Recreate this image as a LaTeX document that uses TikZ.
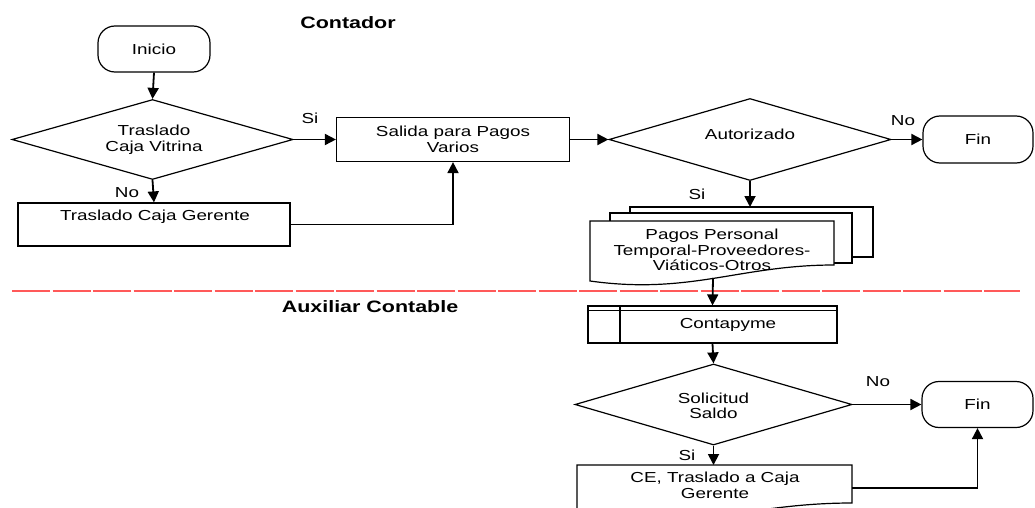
\documentclass[tikz,border=0pt]{standalone}
\usepackage{fontspec}
\setmainfont{Liberation Sans}[FakeStretch=1.3]
\usetikzlibrary{arrows.meta,shapes.geometric}

\begin{document}
\begin{tikzpicture}[x=1pt,y=-1pt,
  every node/.style={font=\fontsize{14.5}{15.5}\selectfont, inner sep=0pt, align=center},
  flow/.style={draw, fill=white, line width=1.2pt},
  boxnode/.style={flow, rectangle},
  term/.style={flow, rectangle, rounded corners=17pt},
  decision/.style={flow, diamond},
  arr/.style={-{Triangle[length=11pt,width=11pt]}, line width=1.8pt},
  lane/.style={draw=red!65, line width=1.4pt, dash pattern=on 38pt off 2.5pt},
  title/.style={font=\bfseries\fontsize{16.5}{20}\selectfont}]

\useasboundingbox (0,0) rectangle (1035,508);

% ---------- lane: Contador ----------
\node[title] (hdrA) at (348,23) {Contador};

\node[term, minimum width=112pt, minimum height=46pt] (ini) at (154,49) {Inicio};

\node[decision, minimum width=281pt, minimum height=80pt] (d1) at (152.5,139.5) {};
\node (d1t) at (154,140) {Traslado\\Caja Vitrina};

\node[boxnode, minimum width=233pt, minimum height=44pt] (sal) at (453,139.5) {Salida para Pagos\\Varios};

\node[boxnode, minimum width=272pt, minimum height=43pt] (tcg) at (154,224.5) {};
\node (tcgt) at (155,217) {Traslado Caja Gerente};

\node[decision, minimum width=282pt, minimum height=82pt] (aut) at (750,139.5) {};
\node (autt) at (750,134) {Autorizado};

\node[term, minimum width=110pt, minimum height=47pt] (fin1) at (978,139.5) {Fin};

% stacked documents: payments
\draw[flow] (630,207) rectangle (873,257);
\draw[flow] (610,213) rectangle (852,263);
\draw[flow] (590,221) -- (834,221) -- (834,265)
  .. controls (740,265) and (690,295) .. (590,281) -- cycle;
\node (docs) at (712,250) {Pagos Personal\\Temporal-Proveedores-\\Viáticos-Otros};
\coordinate (doctop) at (750,207);
\coordinate (docbot) at (713,278);

% lane separator
\draw[lane] (12,291) -- (1020,291);

% ---------- lane: Auxiliar Contable ----------
\node[title] (hdrB) at (370,307) {Auxiliar Contable};

\node[boxnode, minimum width=249pt, minimum height=37pt] (cp) at (712.5,324.5) {};
\draw[line width=1.2pt] (588,310.5) -- (837,310.5);
\draw[line width=1.2pt] (620,306) -- (620,343);
\node (cpt) at (728,324.5) {Contapyme};

\node[decision, minimum width=277pt, minimum height=81pt] (sol) at (713.5,404.5) {};
\node (solt) at (713.5,406) {Solicitud\\Saldo};

\node[term, minimum width=111pt, minimum height=46pt] (fin2) at (977.5,404.5) {Fin};

\begin{scope}
  \clip (0,0) rectangle (1035,508);
  \draw[flow] (577,465) -- (852,465) -- (852,503)
    .. controls (746,503) and (690,533) .. (577,519) -- cycle;
\end{scope}
\node (cet) at (715,485.5) {CE, Traslado a Caja\\Gerente};
\coordinate (cetop) at (713.5,465);
\coordinate (ceE) at (852,488);

% ---------- connectors ----------
\draw[arr] (ini.south) -- (d1.north);
\draw[arr] (d1.east) -- (sal.west);
\draw[arr] (d1.south) -- (tcg.north);
\draw[arr] (tcg.east) -| (sal.south);
\draw[arr] (sal.east) -- (aut.west);
\draw[arr] (aut.east) -- (fin1.west);
\draw[arr] (aut.south) -- (doctop);
\draw[arr] (docbot) -- (cp.north);
\draw[arr] (cp.south) -- (sol.north);
\draw[arr] (sol.east) -- (fin2.west);
\draw[arr] (sol.south) -- (cetop);
\draw[arr] (ceE) -| (fin2.south);

% branch labels
\node (l1) at (310,118) {Si};
\node (l2) at (127,193) {No};
\node (l3) at (903,121) {No};
\node (l4) at (697,194) {Si};
\node (l5) at (878,382) {No};
\node (l6) at (687,455) {Si};

\end{tikzpicture}
\end{document}
